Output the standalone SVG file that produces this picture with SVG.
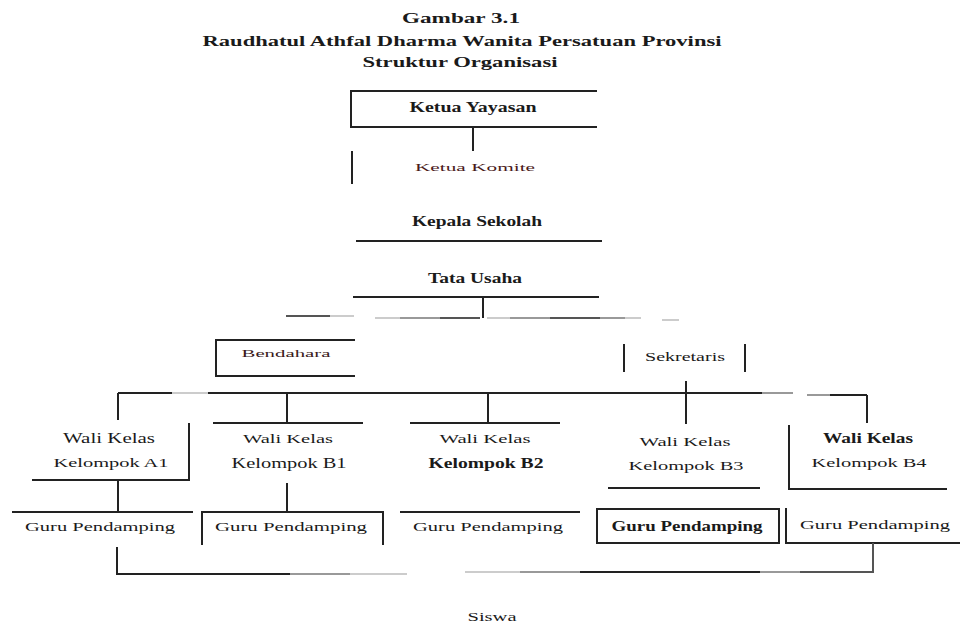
<svg xmlns="http://www.w3.org/2000/svg" width="960" height="632" viewBox="0 0 960 632">
<style>
.t{font-family:"Liberation Serif","Times New Roman",serif;fill:#1a1a1a;text-anchor:middle}
.ti{font-weight:bold;font-size:15px}
.l{stroke:#222;stroke-width:2;fill:none}
.f1{stroke:#555;stroke-width:2;fill:none}
.f2{stroke:#999;stroke-width:2;fill:none}
.f3{stroke:#ccc;stroke-width:2;fill:none}
.s11{font-size:11px}.s12{font-size:12px}.s14{font-size:14px}
</style>
<rect width="960" height="632" fill="#fff"/>
<g id="title">
<text class="t ti" x="461" y="23" textLength="118" lengthAdjust="spacingAndGlyphs">Gambar  3.1</text>
<text class="t ti" x="462" y="46" textLength="519" lengthAdjust="spacingAndGlyphs">Raudhatul Athfal Dharma Wanita Persatuan Provinsi</text>
<text class="t ti" x="460" y="67" textLength="195" lengthAdjust="spacingAndGlyphs">Struktur Organisasi</text>
</g>
<g id="ketua-yayasan">
<path class="l" d="M597 91H351V127H597"/>
<text class="t s14" x="473" y="112" textLength="127" lengthAdjust="spacingAndGlyphs" font-weight="bold">Ketua Yayasan</text>
</g>
<g id="ketua-komite">
<path class="l" d="M352 151V184"/>
<text class="t s11" x="475" y="171" textLength="120" lengthAdjust="spacingAndGlyphs" style="fill:#4a1a1a">Ketua Komite</text>
</g>
<g id="kepala-sekolah">
<text class="t s14" x="477" y="226" textLength="130" lengthAdjust="spacingAndGlyphs" font-weight="bold">Kepala Sekolah</text>
<path class="l" d="M356 241H602"/>
</g>
<g id="tata-usaha">
<text class="t s14" x="475" y="283" textLength="94" lengthAdjust="spacingAndGlyphs" font-weight="bold">Tata Usaha</text>
<path class="l" d="M353 297H599"/>
</g>
<g id="bendahara">
<path class="l" d="M355 340H216V376H355"/>
<text class="t s11" x="286" y="357" textLength="89" lengthAdjust="spacingAndGlyphs" style="fill:#3a1a1a">Bendahara</text>
</g>
<g id="sekretaris">
<path class="l" d="M624 344V372M745 344V372"/>
<text class="t s12" x="685" y="361" textLength="80" lengthAdjust="spacingAndGlyphs">Sekretaris</text>
</g>
<g id="wali-a1">
<text class="t s14" x="109" y="443" textLength="92" lengthAdjust="spacingAndGlyphs">Wali Kelas</text>
<text class="t s12" x="111" y="467" textLength="115" lengthAdjust="spacingAndGlyphs">Kelompok A1</text>
<path class="l" d="M189 423V480H32"/>
</g>
<g id="wali-b1">
<path class="l" d="M213 423H363"/>
<text class="t s12" x="288" y="443" textLength="90" lengthAdjust="spacingAndGlyphs">Wali Kelas</text>
<text class="t s14" x="289" y="468" textLength="115" lengthAdjust="spacingAndGlyphs">Kelompok B1</text>
</g>
<g id="wali-b2">
<path class="l" d="M410 423H560"/>
<text class="t s12" x="485" y="443" textLength="91" lengthAdjust="spacingAndGlyphs">Wali Kelas</text>
<text class="t s14" x="486" y="468" textLength="115" lengthAdjust="spacingAndGlyphs" font-weight="bold">Kelompok B2</text>
</g>
<g id="wali-b3">
<text class="t s12" x="685" y="446" textLength="91" lengthAdjust="spacingAndGlyphs">Wali Kelas</text>
<text class="t s12" x="686" y="470" textLength="115" lengthAdjust="spacingAndGlyphs">Kelompok B3</text>
<path class="l" d="M608 488H760"/>
</g>
<g id="wali-b4">
<text class="t s14" x="868" y="443" textLength="90" lengthAdjust="spacingAndGlyphs" font-weight="bold">Wali Kelas</text>
<text class="t s12" x="869" y="467" textLength="115" lengthAdjust="spacingAndGlyphs">Kelompok B4</text>
<path class="l" d="M789 425V489H947"/>
</g>
<g id="guru-a1">
<path class="l" d="M12 512H193"/>
<text class="t s12" x="100" y="531" textLength="150" lengthAdjust="spacingAndGlyphs">Guru Pendamping</text>
</g>
<g id="guru-b1">
<path class="l" d="M202 545V512H383V545"/>
<text class="t s12" x="291" y="531" textLength="152" lengthAdjust="spacingAndGlyphs">Guru Pendamping</text>
</g>
<g id="guru-b2">
<path class="l" d="M400 512H580"/>
<text class="t s12" x="488" y="531" textLength="150" lengthAdjust="spacingAndGlyphs">Guru Pendamping</text>
</g>
<g id="guru-b3">
<rect class="l" x="597" y="509" width="182" height="34"/>
<text class="t s14" x="687" y="531" textLength="151" lengthAdjust="spacingAndGlyphs" font-weight="bold">Guru Pendamping</text>
</g>
<g id="guru-b4">
<path class="l" d="M786 508V543H960"/>
<text class="t s12" x="875" y="529" textLength="150" lengthAdjust="spacingAndGlyphs">Guru Pendamping</text>
</g>
<g id="siswa">
<text class="t" x="492" y="621" font-size="13" textLength="49" lengthAdjust="spacingAndGlyphs">Siswa</text>
</g>
<g id="connectors">
<path class="l" d="M473 127V151"/>
<path class="l" d="M483 297V318"/>
<path class="f1" d="M286 316H330"/><path class="f3" d="M330 316H354"/>
<path class="f3" d="M375 318H400"/><path class="f2" d="M400 318H440"/><path class="f1" d="M440 318H480"/>
<path class="f3" d="M487 318H510"/><path class="f2" d="M510 318H550"/><path class="f1" d="M550 318H600"/><path class="f2" d="M600 318H625"/><path class="f3" d="M625 318H641"/>
<path class="f3" d="M662 320H679"/>
<path class="l" d="M686 381V393"/>
<path class="l" d="M118 393H172"/><path class="f3" d="M172 393H208"/><path class="l" d="M208 393H762"/><path class="f2" d="M762 393H793"/>
<path class="f2" d="M807 395H830"/><path class="l" d="M830 395H867"/>
<path class="l" d="M118 393V420M287 393V423M488 393V423M686 393V424M867 395V423"/>
<path class="l" d="M118 480V512M287 483V512"/>
<path class="l" d="M117 547V574H290"/><path class="f2" d="M290 574H350"/><path class="f3" d="M350 574H407"/>
<path class="f3" d="M465 572H520"/><path class="f2" d="M520 572H580"/><path class="l" d="M580 572H760"/><path class="f2" d="M760 572H800"/><path class="f1" d="M800 572H873V543"/>
</g>
</svg>
